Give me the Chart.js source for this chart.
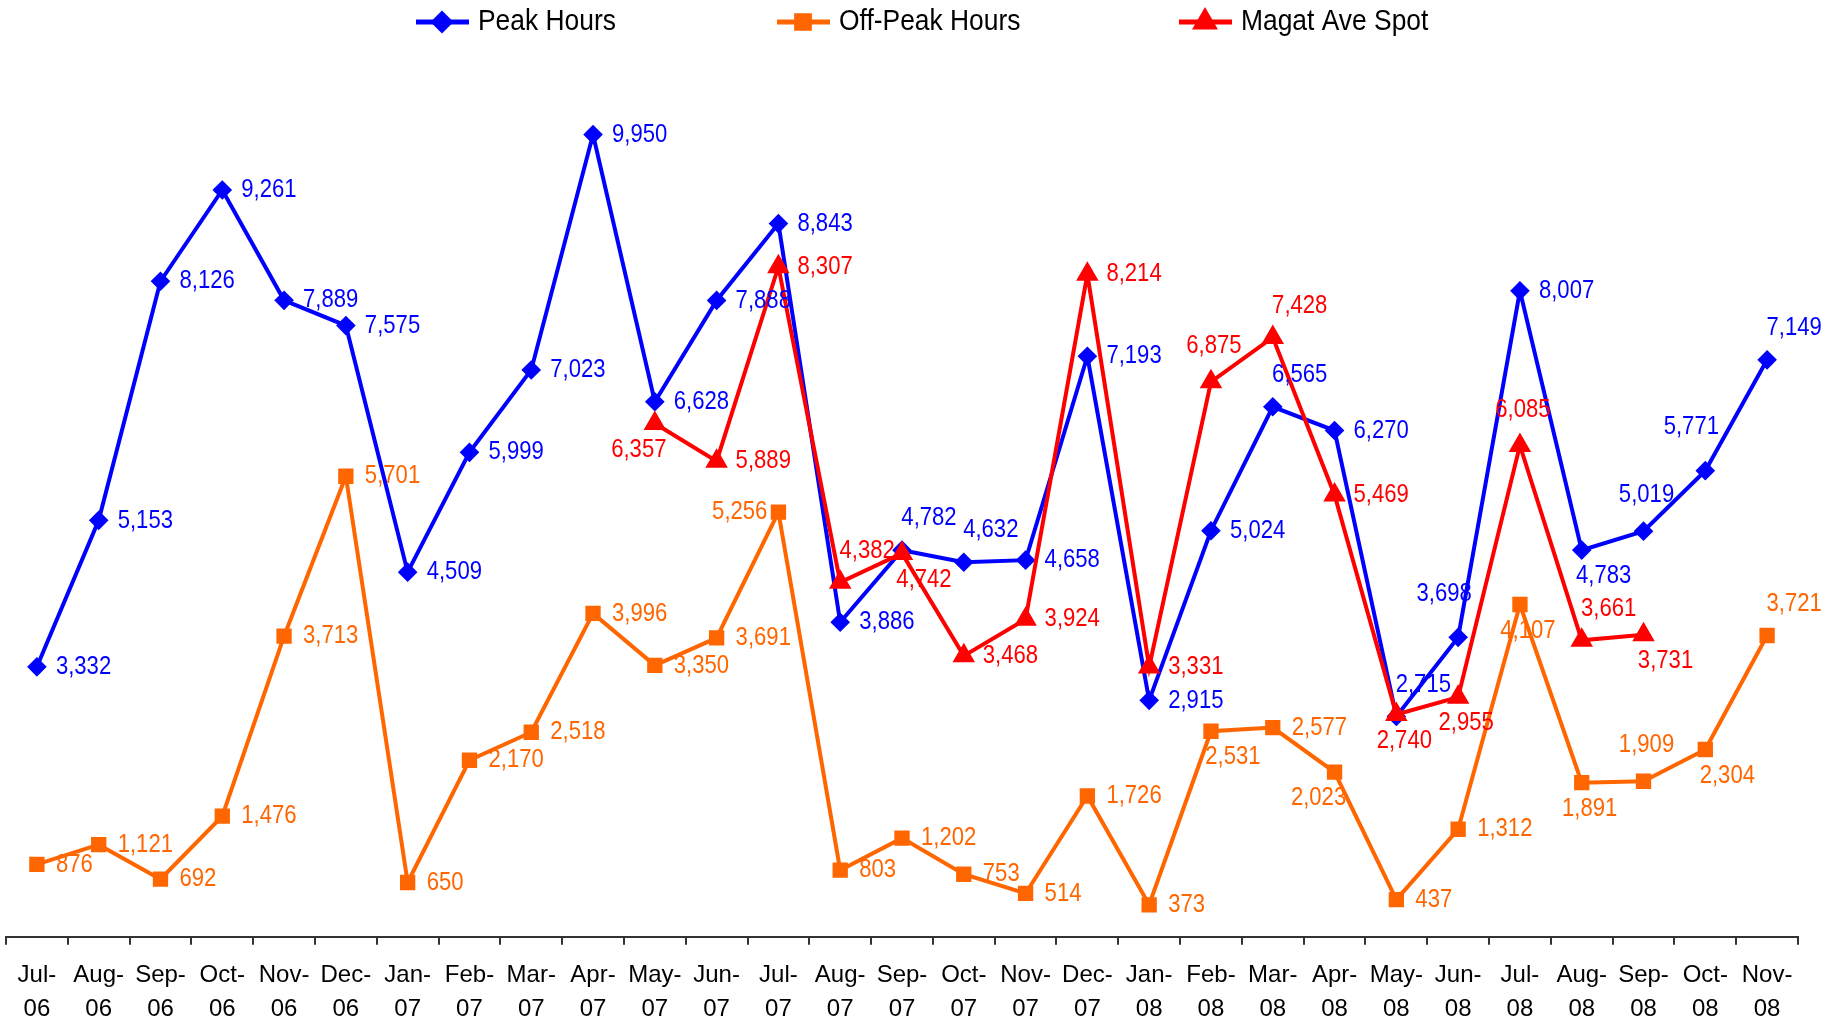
<!DOCTYPE html>
<html>
<head>
<meta charset="utf-8">
<script src="https://cdn.jsdelivr.net/npm/chart.js@4/dist/chart.umd.min.js"></script>
<style>
  html, body { margin: 0; padding: 0; background: #fff; }
  #wrap { width: 1837px; height: 1024px; }
</style>
</head>
<body>
<div id="wrap"><canvas id="chart"></canvas></div>
<script>
const months = ['Jul-06', 'Aug-06', 'Sep-06', 'Oct-06', 'Nov-06', 'Dec-06', 'Jan-07', 'Feb-07', 'Mar-07', 'Apr-07',
  'May-07', 'Jun-07', 'Jul-07', 'Aug-07', 'Sep-07', 'Oct-07', 'Nov-07', 'Dec-07', 'Jan-08', 'Feb-08',
  'Mar-08', 'Apr-08', 'May-08', 'Jun-08', 'Jul-08', 'Aug-08', 'Sep-08', 'Oct-08', 'Nov-08'];

const peakHours = [3332, 5153, 8126, 9261, 7889, 7575, 4509, 5999, 7023, 9950,
  6628, 7888, 8843, 3886, 4782, 4632, 4658, 7193, 2915, 5024,
  6565, 6270, 2715, 3698, 8007, 4783, 5019, 5771, 7149];

const offPeakHours = [876, 1121, 692, 1476, 3713, 5701, 650, 2170, 2518, 3996,
  3350, 3691, 5256, 803, 1202, 753, 514, 1726, 373, 2531,
  2577, 2023, 437, 1312, 4107, 1891, 1909, 2304, 3721];

const magatAveSpot = [null, null, null, null, null, null, null, null, null, null,
  6357, 5889, 8307, 4382, 4742, 3468, 3924, 8214, 3331, 6875,
  7428, 5469, 2740, 2955, 6085, 3661, 3731, null, null];

// where each value label sits relative to its point
const peakLabelPos = ['r', 'r', 'r', 'r', 'r', 'r', 'r', 'r', 'r', 'r',
  'r', 'r', 'r', 'r', 'ar', 'ar', 'r', 'r', 'r', 'r',
  'ar', 'r', 'ar', 'al', 'r', 'br', 'a', 'al', 'ar'];
const offPeakLabelPos = ['r', 'r', 'r', 'r', 'r', 'r', 'r', 'r', 'r', 'r',
  'r', 'r', 'l', 'r', 'r', 'r', 'r', 'r', 'r', 'br',
  'r', 'bl', 'r', 'r', 'b', 'b', 'a', 'br', 'ar'];
const magatLabelPos = [null, null, null, null, null, null, null, null, null, null,
  'bl', 'r', 'r', 'ar', 'br', 'r', 'r', 'r', 'r', 'a',
  'ar', 'r', 'b', 'b', 'a', 'ar', 'br', null, null];

const FONT = "'Liberation Sans', Arial, sans-serif";
const PLACE = {
  r:  { align: 'left',   dx: 19,  dy: 0 },
  l:  { align: 'right',  dx: -11, dy: 0 },
  a:  { align: 'center', dx: 3,   dy: -36 },
  ar: { align: 'center', dx: 27,  dy: -32 },
  al: { align: 'center', dx: -14, dy: -44 },
  b:  { align: 'center', dx: 8,   dy: 26 },
  br: { align: 'center', dx: 22,  dy: 26 },
  bl: { align: 'center', dx: -16, dy: 26 }
};

// condensed text, like the squeezed font of the original
function narrowText(ctx, text, x, y, squeeze) {
  ctx.save();
  ctx.translate(x, y);
  ctx.scale(squeeze, 1);
  ctx.fillText(text, 0, 0);
  ctx.restore();
}

const valueLabels = {
  id: 'valueLabels',
  afterDatasetsDraw(chart) {
    const ctx = chart.ctx;
    ctx.save();
    ctx.font = '26px ' + FONT;
    ctx.textBaseline = 'middle';
    chart.data.datasets.forEach((ds, i) => {
      const meta = chart.getDatasetMeta(i);
      meta.data.forEach((pt, j) => {
        const v = ds.data[j];
        if (v == null) return;
        const p = PLACE[ds.labelPos[j]] || PLACE.r;
        ctx.fillStyle = ds.borderColor;
        ctx.textAlign = p.align;
        narrowText(ctx, v.toLocaleString('en-US'), pt.x + p.dx, pt.y + p.dy, 0.85);
      });
    });
    ctx.restore();
  }
};

const topLegend = {
  id: 'topLegend',
  afterDraw(chart) {
    const ctx = chart.ctx;
    const items = [
      { ds: chart.data.datasets[0], x: 416 },
      { ds: chart.data.datasets[1], x: 777 },
      { ds: chart.data.datasets[2], x: 1179 }
    ];
    const y = 22;
    ctx.save();
    items.forEach(it => {
      const ds = it.ds;
      ctx.strokeStyle = ds.borderColor;
      ctx.fillStyle = ds.borderColor;
      ctx.lineWidth = 5;
      ctx.beginPath();
      ctx.moveTo(it.x, y);
      ctx.lineTo(it.x + 53, y);
      ctx.stroke();
      Chart.helpers.drawPoint(ctx, { pointStyle: ds.pointStyle, radius: ds.pointRadius + 1, rotation: 0, borderWidth: 1 }, it.x + 26, y);
      ctx.fillStyle = '#000';
      ctx.font = '30px ' + FONT;
      ctx.textAlign = 'left';
      ctx.textBaseline = 'middle';
      narrowText(ctx, ds.label, it.x + 62, y, 0.88);
    });
    ctx.restore();
  }
};

const ctx = document.getElementById('chart');
new Chart(ctx, {
  type: 'line',
  data: {
    labels: months,
    datasets: [
      {
        label: 'Peak Hours',
        data: peakHours,
        labelPos: peakLabelPos,
        borderColor: '#0000FF',
        backgroundColor: '#0000FF',
        borderWidth: 4,
        pointStyle: 'rectRot',
        pointRadius: 7,
        order: 2
      },
      {
        label: 'Off-Peak Hours',
        data: offPeakHours,
        labelPos: offPeakLabelPos,
        borderColor: '#FF6600',
        backgroundColor: '#FF6600',
        borderWidth: 4,
        pointStyle: 'rect',
        pointRadius: 8,
        order: 3
      },
      {
        label: 'Magat Ave Spot',
        data: magatAveSpot,
        labelPos: magatLabelPos,
        borderColor: '#FF0000',
        backgroundColor: '#FF0000',
        borderWidth: 4,
        pointStyle: 'triangle',
        pointRadius: 9,
        spanGaps: false,
        order: 1
      }
    ]
  },
  options: {
    responsive: true,
    maintainAspectRatio: false,
    animation: false,
    layout: {
      autoPadding: false,
      padding: { top: 53, left: 6, right: 39, bottom: -16 }
    },
    plugins: {
      legend: { display: false },
      tooltip: { enabled: false }
    },
    elements: {
      line: { tension: 0 }
    },
    scales: {
      x: {
        offset: true,
        afterFit: function(scale) {
          scale.paddingLeft = 0;
          scale.paddingRight = 0;
        },
        grid: {
          display: true,
          drawOnChartArea: false,
          offset: true,
          tickLength: 8,
          color: '#333',
          lineWidth: 2
        },
        border: { display: true, color: '#333', width: 2 },
        ticks: {
          color: '#000',
          font: { family: FONT, size: 24, lineHeight: 1.4 },
          padding: 14,
          maxRotation: 0,
          autoSkip: false,
          callback: function(value, index) {
            const parts = months[index].split('-');
            return [parts[0] + '-', parts[1]];
          }
        }
      },
      y: {
        display: false,
        min: -25,
        max: 10964
      }
    }
  },
  plugins: [valueLabels, topLegend]
});
</script>
</body>
</html>
